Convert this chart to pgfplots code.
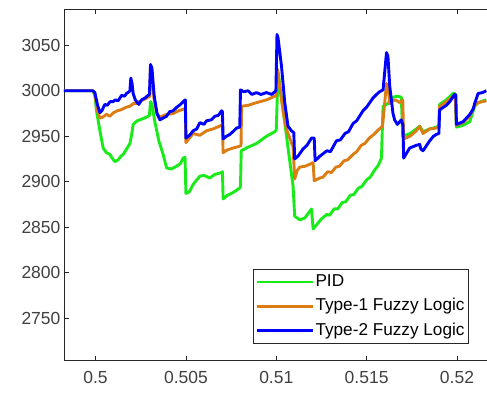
\documentclass[border=0pt]{standalone}
\usepackage{pgfplots}
\pgfplotsset{compat=1.18}
\usepackage{fontspec}
\setmainfont{Liberation Sans}
\definecolor{pidgreen}{RGB}{25,235,25}
\definecolor{toneorange}{RGB}{220,125,20}
\definecolor{ttwoblue}{RGB}{0,0,255}
\definecolor{axgray}{RGB}{38,38,38}
\definecolor{lblgray}{RGB}{64,64,64}
\begin{document}
\begin{tikzpicture}
\begin{axis}[
  scale only axis, width=423pt, height=352pt,
  xmin=0.49825, xmax=0.52164, ymin=2703, ymax=3090,
  axis x line*=box, axis y line*=left,
  axis line style={axgray, line width=0.8pt},
  every tick/.style={axgray, line width=0.8pt},
  major tick length=5pt,
  tick align=inside,
  scaled ticks=false,
  xtick={0.5,0.505,0.51,0.515,0.52},
  xticklabels={0.5,0.505,0.51,0.515,0.52},
  ytick={2750,2800,2850,2900,2950,3000,3050},
  yticklabels={2750,2800,2850,2900,2950,3000,3050},
  /pgf/number format/assume math mode=true,
  tick label style={font=\fontsize{17.5}{20}\selectfont, text=lblgray},
  xticklabel style={yshift=-7pt},
  legend style={at={(0.957,0.048)}, anchor=south east, draw=axgray, line width=0.8pt,
    font=\fontsize{17.2}{20}\selectfont, text=black, inner xsep=2pt, inner ysep=3pt,
    nodes={inner sep=1.5pt, text height=12.5pt, text depth=3.5pt},
    row sep=5.5pt, cells={anchor=west}},
  legend image code/.code={\draw[#1] (0pt,0pt) -- (56pt,0pt);},
  every axis plot/.append style={line width=2.9pt, line join=round},
]
\addplot[pidgreen] coordinates {
(0.49825,3000)(0.49985,3000)(0.49996,2995)(0.50006,2977)(0.50024,2956)(0.50042,2937)(0.50060,2932)(0.50079,2930)(0.50095,2925)(0.50107,2922)(0.50125,2924)(0.50140,2928)(0.50153,2930)(0.50175,2937)(0.50190,2942)(0.50200,2952)(0.50208,2963)(0.50230,2967)(0.50245,2968)(0.50270,2970)(0.50291,2972)(0.50298,2973)(0.50304,2988)(0.50312,2985)(0.50328,2966)(0.50350,2945)(0.50374,2930)(0.50393,2915)(0.50420,2914)(0.50448,2917)(0.50470,2920)(0.50485,2926)(0.50495,2927)(0.50500,2887)(0.50520,2889)(0.50540,2897)(0.50577,2906)(0.50600,2907)(0.50632,2904)(0.50660,2908)(0.50697,2910)(0.50702,2911)(0.50706,2881)(0.50730,2885)(0.50761,2888)(0.50798,2893)(0.50802,2895)(0.50806,2934)(0.50844,2938)(0.50891,2942)(0.50946,2950)(0.50992,2955)(0.51000,2957)(0.51010,3021)(0.51093,2895)(0.51102,2862)(0.51130,2858)(0.51158,2860)(0.51180,2866)(0.51195,2870)(0.51204,2848)(0.51250,2859)(0.51280,2864)(0.51295,2863)(0.51320,2870)(0.51340,2870)(0.51365,2877)(0.51385,2878)(0.51410,2885)(0.51430,2886)(0.51455,2893)(0.51475,2895)(0.51500,2902)(0.51520,2905)(0.51545,2913)(0.51565,2918)(0.51582,2926)(0.51591,2983)(0.51618,2986)(0.51646,2993)(0.51670,2994)(0.51692,2993)(0.51700,2950)(0.51740,2953)(0.51775,2958)(0.51794,2961)(0.51812,2955)(0.51849,2958)(0.51886,2960)(0.51900,2962)(0.51904,2985)(0.51941,2990)(0.51978,2997)(0.51990,2997)(0.51997,2960)(0.52034,2962)(0.52071,2966)(0.52098,2983)(0.52117,2987)(0.52163,2990)
};
\addlegendentry{PID}
\addplot[toneorange] coordinates {
(0.49825,3000)(0.49985,3000)(0.49996,2997)(0.50010,2978)(0.50024,2970)(0.50040,2971)(0.50060,2974)(0.50079,2972)(0.50100,2976)(0.50120,2978)(0.50140,2979)(0.50171,2982)(0.50190,2983)(0.50210,2986)(0.50227,2986)(0.50250,2989)(0.50275,2991)(0.50291,2993)(0.50300,2994)(0.50304,3027)(0.50312,3020)(0.50324,2990)(0.50340,2975)(0.50356,2971)(0.50393,2974)(0.50429,2975)(0.50460,2978)(0.50490,2980)(0.50497,2981)(0.50500,2943)(0.50520,2948)(0.50540,2953)(0.50577,2951)(0.50614,2956)(0.50650,2958)(0.50697,2962)(0.50702,2962)(0.50706,2932)(0.50730,2935)(0.50761,2937)(0.50798,2939)(0.50805,2940)(0.50808,2983)(0.50844,2984)(0.50891,2987)(0.50946,2990)(0.50992,2994)(0.51000,2995)(0.51006,3024)(0.51015,3010)(0.51040,2975)(0.51056,2958)(0.51080,2945)(0.51093,2938)(0.51102,2903)(0.51115,2912)(0.51130,2916)(0.51160,2917)(0.51195,2920)(0.51204,2921)(0.51210,2901)(0.51241,2904)(0.51259,2905)(0.51285,2911)(0.51305,2910)(0.51330,2916)(0.51350,2917)(0.51375,2923)(0.51395,2924)(0.51425,2930)(0.51445,2933)(0.51470,2940)(0.51490,2942)(0.51515,2948)(0.51540,2952)(0.51565,2957)(0.51588,2961)(0.51610,3008)(0.51620,3002)(0.51628,2986)(0.51645,2989)(0.51660,2990)(0.51683,2987)(0.51700,2990)(0.51705,2947)(0.51740,2950)(0.51775,2956)(0.51794,2961)(0.51812,2953)(0.51849,2958)(0.51886,2959)(0.51900,2961)(0.51904,2983)(0.51941,2988)(0.51978,2994)(0.51990,2996)(0.51997,2962)(0.52034,2965)(0.52071,2972)(0.52098,2984)(0.52117,2987)(0.52163,2989)
};
\addlegendentry{Type-1 Fuzzy Logic}
\addplot[ttwoblue] coordinates {
(0.49825,3000)(0.49985,3000)(0.49996,2998)(0.50010,2985)(0.50024,2976)(0.50035,2978)(0.50051,2985)(0.50065,2984)(0.50080,2988)(0.50096,2988)(0.50110,2990)(0.50125,2989)(0.50144,2995)(0.50160,2994)(0.50171,2997)(0.50186,2999)(0.50190,3000)(0.50195,3014)(0.50202,3008)(0.50208,2997)(0.50220,2990)(0.50239,2985)(0.50255,2990)(0.50273,2992)(0.50291,2995)(0.50298,2996)(0.50304,3029)(0.50312,3025)(0.50324,2995)(0.50340,2975)(0.50356,2968)(0.50374,2970)(0.50393,2972)(0.50410,2977)(0.50429,2978)(0.50450,2982)(0.50470,2985)(0.50490,2989)(0.50497,2990)(0.50500,2948)(0.50520,2951)(0.50540,2956)(0.50560,2958)(0.50577,2965)(0.50600,2963)(0.50614,2967)(0.50640,2968)(0.50660,2972)(0.50680,2973)(0.50697,2978)(0.50702,2977)(0.50706,2947)(0.50725,2950)(0.50743,2952)(0.50760,2955)(0.50780,2959)(0.50798,2960)(0.50802,3001)(0.50820,2999)(0.50844,3000)(0.50865,2996)(0.50891,2998)(0.50915,2996)(0.50946,2998)(0.50975,2996)(0.50998,3000)(0.51004,3062)(0.51010,3058)(0.51029,3027)(0.51047,2987)(0.51065,2961)(0.51084,2956)(0.51097,2954)(0.51102,2925)(0.51120,2928)(0.51148,2936)(0.51170,2940)(0.51195,2948)(0.51210,2948)(0.51215,2923)(0.51241,2928)(0.51280,2934)(0.51300,2933)(0.51333,2945)(0.51355,2946)(0.51380,2953)(0.51400,2955)(0.51425,2964)(0.51445,2967)(0.51480,2978)(0.51500,2982)(0.51535,2992)(0.51555,2996)(0.51572,2999)(0.51591,3001)(0.51610,3042)(0.51618,3038)(0.51628,3005)(0.51646,2975)(0.51655,2968)(0.51670,2963)(0.51692,2968)(0.51701,2962)(0.51705,2926)(0.51738,2937)(0.51775,2940)(0.51794,2941)(0.51800,2936)(0.51812,2934)(0.51849,2945)(0.51870,2950)(0.51886,2952)(0.51900,2953)(0.51904,2979)(0.51941,2984)(0.51960,2988)(0.51987,2996)(0.51994,2995)(0.51997,2963)(0.52034,2966)(0.52071,2974)(0.52090,2980)(0.52098,2986)(0.52117,2997)(0.52140,2998)(0.52163,3000)
};
\addlegendentry{Type-2 Fuzzy Logic}
\end{axis}
\path ([xshift=-64pt,yshift=-36pt]current axis.south west) rectangle ([yshift=9pt]current axis.north east);
\end{tikzpicture}
\end{document}
